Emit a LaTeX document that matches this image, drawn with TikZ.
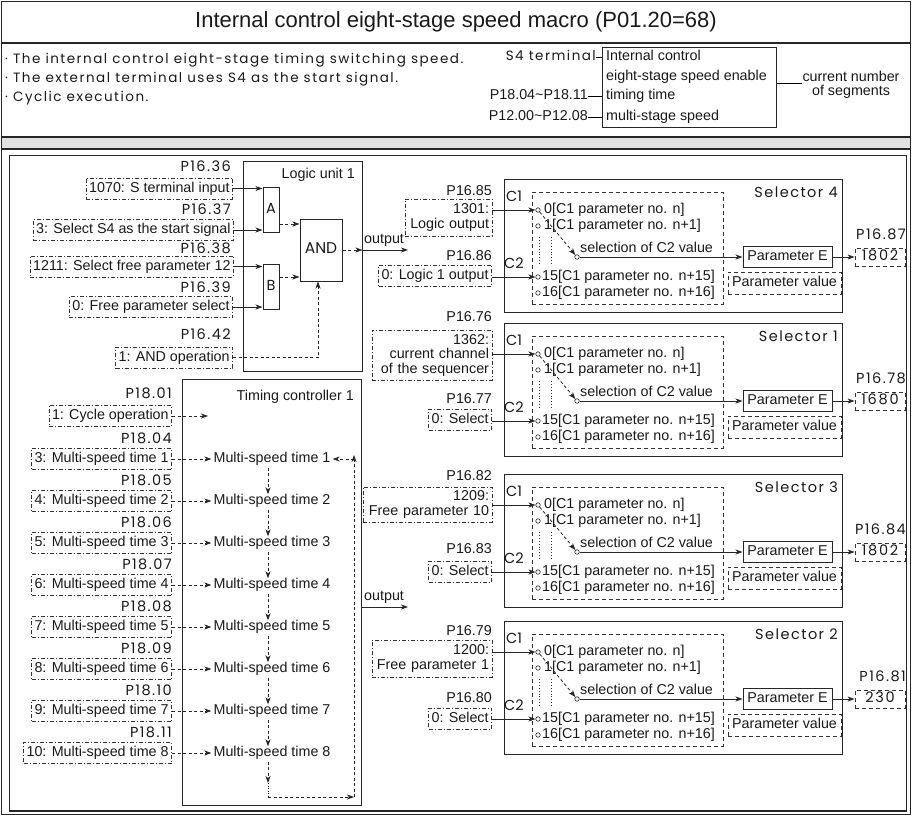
\documentclass[tikz,border=0pt]{standalone}
\usepackage{fontspec}
\setmainfont{Liberation Sans}
\newfontfamily\gf{Poppins}
\newfontfamily\gfw[LetterSpace=10]{Poppins}
\newfontfamily\gfb[LetterSpace=11]{Poppins}
\newfontfamily\gfv[LetterSpace=12]{Poppins}
\usetikzlibrary{arrows.meta,calc}
\tikzset{
 frame/.style={draw=black!85, line width=1.2pt},
 sbox/.style={draw=black!85, line width=1pt, inner sep=0pt},
 ddbox/.style={draw=black!80, line width=0.8pt, dash pattern=on 4pt off 2pt on 1pt off 2pt, inner xsep=3pt, inner ysep=4pt},
 ddm/.style={draw=black!80, line width=0.8pt, dash pattern=on 4pt off 2pt on 1pt off 2pt, inner xsep=3pt, inner ysep=2pt},
 dbox/.style={draw=black!80, line width=0.8pt, dash pattern=on 4pt off 3pt},
 ct/.style={font=\fontsize{14.3}{15}\selectfont, inner sep=0pt, text=black!90, text height=10pt, text depth=3pt},
 ct2/.style={font=\fontsize{14.3}{14.5}\selectfont, inner sep=0pt, text=black!90},
 gt/.style={font=\gf\fontsize{14.5}{16}\selectfont, inner sep=0pt, text=black!90, text height=10pt, text depth=3pt},
 wt/.style={font=\gfw\fontsize{14.5}{16}\selectfont, inner sep=0pt, text=black!90, text height=10pt, text depth=3pt},
 bt/.style={font=\gfb\fontsize{13.5}{15}\selectfont, inner sep=0pt, text=black!90, text height=10pt, text depth=3pt},
 vt/.style={font=\gfv\fontsize{14.5}{16}\selectfont, inner sep=0pt, text=black!90, text height=10pt, text depth=3pt},
 arr/.style={-{Stealth[length=7pt,width=5pt,inset=2pt]}, line width=0.8pt, draw=black!85},
 darr/.style={arr, dash pattern=on 3pt off 2.5pt},
 dot/.style={circle, draw=black!85, line width=0.6pt, inner sep=0pt, minimum size=4.5pt, fill=white},
}
\newcommand\selbody[5]{%
 \node[sbox, minimum width=338pt, minimum height=133pt, anchor=north west] (#2box) at (504,#1) {};
 \node[wt, anchor=east] (#2t) at (838,#1+15) {#3};
 \node[gt] (#2c1) at (514,#1+19) {C1};
 \node[gt] (#2c2) at (514,#1+86) {C2};
 \node[dbox, minimum width=191pt, minimum height=112pt, anchor=north west] (#2in) at (532,#1+13) {};
 \node[dot] (#2o0) at (538,#1+31) {};
 \node[dot] (#2o1) at (538,#1+47) {};
 \node[dot] (#2o15) at (538,#1+98) {};
 \node[dot] (#2o16) at (538,#1+114) {};
 \node[ct, anchor=west] (#2l0) at (544,#1+31) {0[C1 parameter no. n]};
 \node[ct, anchor=west] (#2l1) at (544,#1+47) {1[C1 parameter no. n+1]};
 \node[ct, anchor=west] (#2l15) at (542,#1+98) {15[C1 parameter no. n+15]};
 \node[ct, anchor=west] (#2l16) at (542,#1+114) {16[C1 parameter no. n+16]};
 \node[dot] (#2sel) at (577,#1+78) {};
 \node[ct, anchor=west] (#2lsel) at (580,#1+70) {selection of C2 value};
 \draw[dotted, line width=0.9pt, black!80] (539,#1+58) -- (539,#1+86);
 \draw[dotted, line width=0.9pt, black!80] (551,#1+58) -- (551,#1+86);
 \draw[darr] (#2o0) -- (#2sel);
 \node[sbox, ct, minimum width=89pt, minimum height=21pt] (#2pe) at (787.5,#1+78) {Parameter E};
 \draw[arr] (#2sel) -- (#2pe);
 \node[dbox, vt, minimum width=50pt, minimum height=18pt] (#2val) at (880,#1+78) {#5};
 \draw[arr] (#2pe) -- (#2val);
 \node[wt, anchor=east] (#2pl) at (906,#1+57) {#4};
 \node[dbox, ct, minimum width=113pt, minimum height=22pt] (#2pv) at (784.5,#1+104) {Parameter value};
}
\begin{document}
\begin{tikzpicture}[x=1pt,y=-1pt]
\useasboundingbox (0,0) rectangle (912,816);
% frames
\draw[frame] (1.5,1.5) rectangle (910.5,814.5);
\draw[frame] (1.5,43) -- (910.5,43);
\filldraw[fill=black!12, draw=black!85, line width=1.1pt] (1.5,137) rectangle (910.5,149);
\draw[frame] (9.5,155.5) rectangle (906.5,811);
% title
\node[font=\fontsize{22}{26}\selectfont, text=black!90] (title) at (456,22) {Internal control eight-stage speed macro (P01.20=68)};
% description
\node[bt, anchor=west] (b1) at (5,60) {· The internal control eight-stage timing switching speed.};
\node[bt, anchor=west] (b2) at (5,79) {· The external terminal uses S4 as the start signal.};
\node[bt, anchor=west] (b3) at (5,98) {· Cyclic execution.};
\node[sbox, minimum width=174pt, minimum height=80pt, anchor=north west] (enbox) at (602,47) {};
\node[ct, anchor=west] (en1) at (606,57) {Internal control};
\node[ct, anchor=west] (en2) at (606,77) {eight-stage speed enable};
\node[ct, anchor=west] (en3) at (606,96) {timing time};
\node[ct, anchor=west] (en4) at (606,117) {multi-stage speed};
\node[bt, anchor=east] (s4t) at (596,57) {S4 terminal};
\node[ct, anchor=east] (tt) at (588,96) {P18.04\textasciitilde P18.11};
\node[ct, anchor=east] (ms) at (588,117) {P12.00\textasciitilde P12.08};
\draw[line width=0.8pt] (s4t.east) -- (s4t.east -| enbox.west);
\draw[line width=0.8pt] (tt.east) -- (tt.east -| enbox.west);
\draw[line width=0.8pt] (ms.east) -- (ms.east -| enbox.west);
\node[ct2, align=center] (seg) at (851,85) {current number\\of segments};
\coordinate (segL) at (802,83);
\draw[line width=0.8pt] (segL -| enbox.east) -- (segL);
% logic unit
\node[sbox, minimum width=119pt, minimum height=210pt] (lu) at (302.5,266) {};
\node[ct, anchor=east] (lut) at (355,175) {Logic unit 1};
\node[sbox, gt, minimum width=16pt, minimum height=45pt] (A) at (271,209.5) {A};
\node[sbox, gt, minimum width=16pt, minimum height=45pt] (B) at (271,286.5) {B};
\node[sbox, gt, font=\gf\fontsize{15.5}{16}\selectfont, minimum width=42pt, minimum height=62pt] (AND) at (321,250) {AND};
\node[wt, anchor=east] (p1636) at (231,168) {P16.36};
\node[ct, ddbox, anchor=east] (i1070) at (233,188.5) {1070: S terminal input};
\node[wt, anchor=east] (p1637) at (231,211) {P16.37};
\node[ct, ddbox, anchor=east] (i3) at (234,230) {3: Select S4 as the start signal};
\node[wt, anchor=east] (p1638) at (231,250) {P16.38};
\node[ct, ddbox, anchor=east] (i1211) at (234,266.5) {1211: Select free parameter 12};
\node[wt, anchor=east] (p1639) at (231,289) {P16.39};
\node[ct, ddbox, anchor=east] (i0f) at (233,307) {0: Free parameter select};
\node[wt, anchor=east] (p1642) at (231,336) {P16.42};
\node[ct, ddbox, anchor=east] (iand) at (233,357.5) {1: AND operation};
\draw[arr] (i1070.east) -- (i1070.east -| A.west);
\draw[arr] (i3.east) -- (i3.east -| A.west);
\draw[arr] (i1211.east) -- (i1211.east -| B.west);
\draw[arr] (i0f.east) -- (i0f.east -| B.west);
\coordinate (ya) at (0,224);
\coordinate (yb) at (0,277);
\coordinate (andx) at (318,0);
\draw[darr] (A.east |- ya) -- (AND.west |- ya);
\draw[darr] (B.east |- yb) -- (AND.west |- yb);
\draw[darr] (iand.east) -| (andx |- AND.south);
\draw[darr] (AND.east) -- (AND.east -| lu.east);
\coordinate (lout) at (408,250);
\draw[arr] (AND.east -| lu.east) -- (lout);
\node[ct, anchor=south west] (outl) at (364,247) {output};
% timing controller
\node[sbox, minimum width=179pt, minimum height=426pt] (tc) at (271.5,592) {};
\node[ct, anchor=east] (tct) at (354,397) {Timing controller 1};
\node[wt, anchor=east] (p1801) at (172,395) {P18.01};
\node[ct, ddbox, anchor=east] (icyc) at (172,416) {1: Cycle operation};
\coordinate (cyc) at (208,416);
\draw[darr] (icyc.east) -- (cyc);
\foreach \k/\pl/\num in {1/04/3,2/05/4,3/06/5,4/07/6,5/08/7,6/09/8,7/10/9,8/11/10}{
 \pgfmathsetmacro\yy{459+(\k-1)*42}
 \node[wt, anchor=east] (p18\k) at (172,\yy-19) {P18.\pl};
 \node[ct, ddbox, anchor=east] (it\k) at (172,\yy) {\num: Multi-speed time \k};
 \node[ct] (mst\k) at (272,\yy) {Multi-speed time \k};
 \draw[darr] (it\k.east) -- ([xshift=-2pt]mst\k.west);
}
\coordinate (vx) at (268,0);
\foreach \k [evaluate=\k as \n using int(\k+1)] in {1,...,7}{
 \draw[darr, shorten <=2pt] (mst\k.south -| vx) -- (mst\n.north -| vx);
}
\coordinate (lp1) at (268,783);
\coordinate (lp2) at (268,797);
\coordinate (rx) at (354,797);
\coordinate (rt) at (354,459);
\draw[darr, shorten <=2pt] (mst8.south -| vx) -- (lp1);
\draw[dash pattern=on 1pt off 1.5pt, line width=0.8pt] (lp1) -- (lp2);
\draw[darr] (lp2) -- (rx);
\draw[darr] (rx) -- ([yshift=4pt]rt);
\draw[darr] (rt) -- ([xshift=2pt]mst1.east);
\coordinate (tout) at (408,607);
\draw[arr] (tc.east |- tout) -- (tout);
\node[ct, anchor=south west] (outl2) at (364,604) {output};
% selectors
\selbody{179}{sa}{Selector 4}{P16.87}{1802}
\selbody{323}{sb}{Selector 1}{P16.78}{1680}
\selbody{474}{sc}{Selector 3}{P16.84}{1802}
\selbody{621}{sd}{Selector 2}{P16.81}{230}
% selector inputs
\node[ct, anchor=east] (p1685) at (492,192) {P16.85};
\node[ct2, ddm, text width=81pt, align=right, minimum height=37pt] (i1301) at (448.5,217.5) {1301:\\Logic output};
\draw[arr] (i1301.east |- sao0) -- (sao0);
\node[ct, anchor=east] (p1686) at (492,257) {P16.86};
\node[ct, ddbox, anchor=east] (i0l1) at (492,275.5) {0: Logic 1 output};
\draw[arr] (i0l1.east |- sao15) -- (sao15);
\node[ct, anchor=east] (p1676) at (492,318) {P16.76};
\node[ct2, ddm, text width=114pt, align=right, minimum height=50pt] (i1362) at (432,355) {1362:\\current channel\\of the sequencer};
\draw[arr] (i1362.east |- sbo0) -- (sbo0);
\node[ct, anchor=east] (p1677) at (492,400) {P16.77};
\node[ct, ddbox, anchor=east] (i0s1) at (492,419.5) {0: Select};
\draw[arr] (i0s1.east |- sbo15) -- (sbo15);
\node[ct, anchor=east] (p1682) at (492,477) {P16.82};
\node[ct2, ddm, text width=123pt, align=right, minimum height=35pt] (i1209) at (427.5,504.5) {1209:\\Free parameter 10};
\draw[arr] (i1209.east |- sco0) -- (sco0);
\node[ct, anchor=east] (p1683) at (492,550) {P16.83};
\node[ct, ddbox, anchor=east] (i0s3) at (492,571.5) {0: Select};
\draw[arr] (i0s3.east |- sco15) -- (sco15);
\node[ct, anchor=east] (p1679) at (492,632) {P16.79};
\node[ct2, ddm, text width=114pt, align=right, minimum height=37pt] (i1200) at (432,658.5) {1200:\\Free parameter 1};
\draw[arr] (i1200.east |- sdo0) -- (sdo0);
\node[ct, anchor=east] (p1680) at (492,699) {P16.80};
\node[ct, ddbox, anchor=east] (i0s2) at (492,718.5) {0: Select};
\draw[arr] (i0s2.east |- sdo15) -- (sdo15);
\end{tikzpicture}
\end{document}
